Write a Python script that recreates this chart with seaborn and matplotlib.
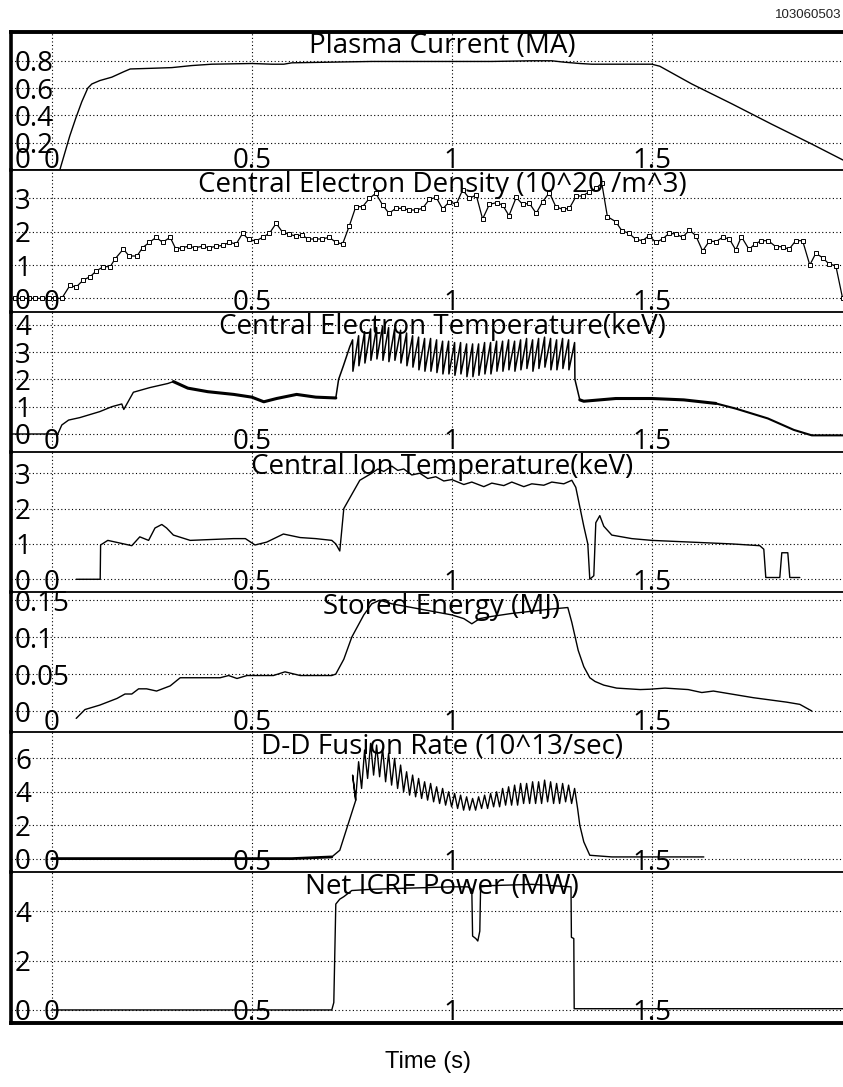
import numpy as np
import pandas as pd
import seaborn as sns
import matplotlib
matplotlib.use("Agg")
import matplotlib.pyplot as plt
import matplotlib.transforms as mtransforms

sns.set_style("white")
plt.rcParams['font.family'] = ['Open Sans', 'DejaVu Sans']

# ---------------- data ----------------
SHOT = "103060503"
TITLES = ["Plasma Current (MA)", "Central Electron Density (10^20 /m^3)",
          "Central Electron Temperature(keV)", "Central Ion Temperature(keV)",
          "Stored Energy (MJ)", "D-D Fusion Rate (10^13/sec)", "Net ICRF Power (MW)"]
X_TICKS = [0, 0.5, 1, 1.5]
X_TICK_LABELS = ["0", "0.5", "1", "1.5"]
Y_TICKS = [[0, 0.2, 0.4, 0.6, 0.8], [0, 1, 2, 3], [0, 1, 2, 3, 4], [0, 1, 2, 3],
           [0, 0.05, 0.1, 0.15], [0, 2, 4, 6], [0, 2, 4]]
Y_TICK_LABELS = [["0", "0.2", "0.4", "0.6", "0.8"], ["0", "1", "2", "3"],
                 ["0", "1", "2", "3", "4"], ["0", "1", "2", "3"],
                 ["0", "0.05", "0.1", "0.15"], ["0", "2", "4", "6"], ["0", "2", "4"]]
Y_LIMS = [(0, 1.013), (-0.41, 3.85), (-0.66, 4.47), (-0.36, 3.6),
          (-0.0284, 0.161), (-0.82, 7.58), (-0.53, 5.59)]

ip_t = [-0.1, 0.02, 0.03, 0.045, 0.06, 0.075, 0.09, 0.1, 0.12, 0.15, 0.18, 0.196, 0.25, 0.3,
        0.35, 0.4, 0.5, 0.55, 0.58, 0.6, 0.7, 0.8, 0.9, 1.0, 1.1, 1.2, 1.25, 1.28, 1.32, 1.35,
        1.4, 1.5, 1.52, 1.6, 1.7, 1.8, 1.9, 1.978]
ip_v = [0.0, 0.0, 0.1, 0.25, 0.38, 0.5, 0.6, 0.63, 0.655, 0.68, 0.72, 0.74, 0.745, 0.75,
        0.765, 0.775, 0.78, 0.775, 0.775, 0.785, 0.79, 0.795, 0.795, 0.795, 0.795, 0.8, 0.8,
        0.79, 0.78, 0.775, 0.775, 0.775, 0.76, 0.63, 0.485, 0.335, 0.19, 0.073]

ne_t = [-0.092, -0.075, -0.058, -0.042, -0.025, -0.008, 0.008, 0.025, 0.046, 0.06, 0.079,
        0.096, 0.111, 0.129, 0.146, 0.158, 0.179, 0.193, 0.213, 0.227, 0.244, 0.261, 0.277,
        0.296, 0.31, 0.325, 0.342, 0.358, 0.377, 0.393, 0.411, 0.428, 0.444, 0.461, 0.477,
        0.492, 0.51, 0.527, 0.544, 0.561, 0.577, 0.594, 0.61, 0.625, 0.641, 0.658, 0.675,
        0.694, 0.71, 0.727, 0.744, 0.76, 0.777, 0.794, 0.81, 0.827, 0.843, 0.86, 0.877, 0.893,
        0.91, 0.927, 0.944, 0.961, 0.977, 0.994, 1.011, 1.027, 1.044, 1.061, 1.077, 1.094,
        1.112, 1.127, 1.143, 1.161, 1.177, 1.194, 1.211, 1.227, 1.244, 1.26, 1.277, 1.294,
        1.311, 1.327, 1.344, 1.36, 1.375, 1.389, 1.41, 1.425, 1.443, 1.46, 1.477, 1.493, 1.51,
        1.527, 1.543, 1.56, 1.577, 1.594, 1.61, 1.627, 1.644, 1.66, 1.677, 1.694, 1.71, 1.724,
        1.743, 1.758, 1.774, 1.791, 1.81, 1.827, 1.843, 1.86, 1.877, 1.895, 1.91, 1.927, 1.943,
        1.96, 1.977]
ne_v = [0, 0, 0, 0, 0, 0, 0, 0, 0.4, 0.33, 0.55, 0.65, 0.82, 0.95, 0.95, 1.18, 1.48, 1.27,
        1.27, 1.52, 1.68, 1.83, 1.68, 1.83, 1.48, 1.52, 1.56, 1.52, 1.56, 1.52, 1.56, 1.59,
        1.68, 1.63, 1.95, 1.77, 1.72, 1.83, 1.95, 2.25, 1.98, 1.92, 1.87, 1.9, 1.78, 1.78,
        1.78, 1.83, 1.68, 1.63, 2.18, 2.75, 2.75, 3.0, 3.15, 2.8, 2.55, 2.7, 2.7, 2.65, 2.65,
        2.7, 2.97, 3.03, 2.68, 2.9, 2.82, 3.25, 3.0, 3.1, 2.38, 2.82, 2.87, 2.8, 2.48, 3.03,
        2.82, 2.85, 2.55, 2.9, 3.17, 2.75, 2.67, 2.7, 3.07, 3.07, 3.2, 3.3, 3.45, 2.45, 2.3,
        2.03, 1.95, 1.77, 1.73, 1.88, 1.68, 1.78, 1.95, 1.93, 1.83, 2.05, 1.88, 1.42, 1.72,
        1.7, 1.83, 1.78, 1.45, 1.85, 1.47, 1.63, 1.73, 1.73, 1.55, 1.55, 1.47, 1.73, 1.73,
        1.0, 1.35, 1.22, 1.03, 0.98, 0.0]

# electron temperature pieces
te_pre_t = [-0.1, 0.015, 0.025, 0.042, 0.07, 0.12, 0.15, 0.175, 0.18, 0.204, 0.245, 0.29, 0.304]
te_pre_v = [0.0, 0.0, 0.33, 0.51, 0.6, 0.82, 1.0, 1.1, 0.9, 1.53, 1.7, 1.85, 1.92]
te_band1_t = [0.304, 0.34, 0.39, 0.455, 0.5, 0.53, 0.562, 0.612, 0.66, 0.71]
te_band1_v = [1.92, 1.68, 1.55, 1.45, 1.35, 1.18, 1.3, 1.45, 1.35, 1.32]
te_rise_t = [0.71, 0.717, 0.729, 0.745]
te_rise_v = [1.32, 2.0, 2.5, 3.2]
saw_t = [0.752, 0.767, 0.782, 0.797, 0.812, 0.827, 0.842, 0.857, 0.872, 0.887, 0.902, 0.917,
         0.932, 0.947, 0.962, 0.977, 0.992, 1.007, 1.022, 1.037, 1.052, 1.067, 1.082, 1.097,
         1.112, 1.127, 1.142, 1.157, 1.172, 1.187, 1.202, 1.217, 1.232, 1.247, 1.262, 1.277,
         1.292, 1.307]
te_top = [3.45, 3.6, 3.75, 3.85, 3.9, 3.95, 3.9, 3.85, 3.8, 3.7, 3.6, 3.55, 3.5, 3.5, 3.45,
          3.4, 3.4, 3.35, 3.35, 3.3, 3.3, 3.3, 3.35, 3.35, 3.4, 3.4, 3.45, 3.4, 3.45, 3.5, 3.45,
          3.5, 3.55, 3.5, 3.45, 3.5, 3.45, 3.35]
te_bot = [2.3, 2.5, 2.6, 2.7, 2.75, 2.7, 2.65, 2.7, 2.6, 2.5, 2.45, 2.35, 2.3, 2.3, 2.25,
          2.2, 2.2, 2.15, 2.2, 2.1, 2.1, 2.15, 2.2, 2.2, 2.3, 2.3, 2.35, 2.3, 2.35, 2.4, 2.3,
          2.4, 2.45, 2.35, 2.35, 2.4, 2.35, 2.0]
te_post_t = [1.32, 1.33, 1.41, 1.5, 1.58, 1.66, 1.71, 1.79, 1.855, 1.9, 1.978]
te_post_v = [1.25, 1.2, 1.3, 1.3, 1.25, 1.12, 0.93, 0.57, 0.15, -0.05, -0.05]

ti_t = [0.061, 0.121, 0.122, 0.14, 0.16, 0.2, 0.22, 0.242, 0.258, 0.275, 0.287, 0.304, 0.346,
        0.388, 0.454, 0.484, 0.508, 0.537, 0.579, 0.621, 0.66, 0.7, 0.71, 0.72, 0.73, 0.75,
        0.77, 0.8, 0.815, 0.83, 0.85, 0.865, 0.88, 0.9, 0.92, 0.94, 0.96, 0.98, 1.0, 1.03,
        1.05, 1.08, 1.1, 1.13, 1.15, 1.18, 1.2, 1.23, 1.25, 1.28, 1.3, 1.31,
        1.33, 1.34, 1.345, 1.355, 1.36, 1.37, 1.38, 1.4, 1.45, 1.5, 1.6, 1.7, 1.77, 1.78,
        1.785, 1.82, 1.825, 1.84, 1.845, 1.87]
ti_v = [0.0, 0.0, 0.97, 1.1, 1.05, 0.95, 1.2, 1.1, 1.45, 1.55, 1.45, 1.25, 1.1, 1.12, 1.15,
        1.15, 0.97, 1.05, 1.28, 1.18, 1.15, 1.1, 1.0, 0.8, 2.0, 2.4, 2.8, 3.0, 3.12, 3.05,
        3.2, 3.08, 3.12, 2.95, 3.0, 2.85, 2.9, 2.78, 2.82, 2.68, 2.75, 2.62, 2.72, 2.65, 2.75,
        2.62, 2.7, 2.66, 2.75, 2.7, 2.8, 2.6, 1.5, 1.0, 0.0, 0.1, 1.6, 1.8, 1.5,
        1.25, 1.15, 1.1, 1.05, 1.0, 0.95, 0.85, 0.05, 0.05, 0.75, 0.75, 0.05, 0.05]

we_t = [0.061, 0.083, 0.12, 0.163, 0.183, 0.2, 0.217, 0.237, 0.262, 0.296, 0.321, 0.421,
        0.442, 0.463, 0.488, 0.554, 0.583, 0.621, 0.65, 0.7, 0.71, 0.73, 0.75, 0.78, 0.8,
        0.82, 0.85, 0.9, 0.95, 1.0, 1.03, 1.05, 1.07, 1.1, 1.15, 1.2, 1.25, 1.29, 1.3, 1.316,
        1.33, 1.345, 1.358, 1.38, 1.412, 1.471, 1.496, 1.533, 1.591, 1.625, 1.654, 1.754,
        1.837, 1.87, 1.9]
we_v = [-0.01, 0.002, 0.008, 0.017, 0.023, 0.023, 0.03, 0.03, 0.027, 0.034, 0.045, 0.045,
        0.048, 0.044, 0.048, 0.048, 0.053, 0.048, 0.048, 0.048, 0.05, 0.07, 0.1, 0.13, 0.145,
        0.15, 0.145, 0.14, 0.135, 0.13, 0.125, 0.118, 0.125, 0.128, 0.132, 0.135, 0.138,
        0.14, 0.12, 0.082, 0.06, 0.045, 0.04, 0.035, 0.031, 0.029, 0.0295, 0.031, 0.029,
        0.025, 0.027, 0.018, 0.012, 0.009, 0.0]

dd_pre_t = [0.0, 0.1, 0.2, 0.3, 0.4, 0.5, 0.6, 0.7, 0.72, 0.74, 0.76]
dd_pre_v = [0.0, 0.0, 0.0, 0.0, 0.0, 0.0, 0.0, 0.1, 0.5, 2.0, 3.5]
dd_top = [5.0, 5.8, 6.5, 6.9, 6.8, 6.6, 6.3, 6.0, 5.6, 5.2, 5.0, 4.8, 4.6, 4.5, 4.3, 4.2,
          4.0, 3.9, 3.8, 3.7, 3.6, 3.7, 3.8, 3.9, 4.0, 4.2, 4.3, 4.4, 4.5, 4.5, 4.6, 4.6, 4.7,
          4.6, 4.5, 4.5, 4.4, 4.2]
dd_bot = [3.5, 4.2, 4.8, 5.0, 4.9, 4.6, 4.4, 4.2, 4.0, 3.8, 3.7, 3.6, 3.5, 3.4, 3.3, 3.2,
          3.1, 3.0, 2.9, 2.9, 2.9, 3.0, 3.0, 3.1, 3.1, 3.2, 3.2, 3.2, 3.3, 3.3, 3.3, 3.3, 3.4,
          3.3, 3.3, 3.4, 3.3, 3.0]
dd_post_t = [1.32, 1.33, 1.345, 1.4, 1.5, 1.6, 1.63]
dd_post_v = [2.0, 1.0, 0.2, 0.1, 0.1, 0.1, 0.1]

rf_t = [0.0, 0.7, 0.705, 0.71, 0.72, 0.73, 0.75, 0.8, 0.9, 1.0, 1.04, 1.05, 1.052, 1.06,
        1.065, 1.07, 1.072, 1.1, 1.2, 1.298, 1.299, 1.305, 1.306, 1.978]
rf_v = [0.0, 0.0, 0.3, 4.3, 4.5, 4.6, 4.85, 4.9, 4.95, 5.0, 5.0, 4.9, 3.0, 2.9, 2.8, 3.2,
        5.0, 5.05, 5.1, 5.0, 2.95, 2.9, 0.05, 0.05]

# ---------------- layout ----------------
W, H = 843, 1087
fig = plt.figure(figsize=(W / 100, H / 100), dpi=100)
bounds_px = [31.7, 170, 312, 452, 592, 732, 872.3, 1023]
left_px = 11
XMIN, XMAX = -0.102, 1.978
axes = []
for i in range(7):
    top, bot = bounds_px[i], bounds_px[i + 1]
    ax = fig.add_axes([left_px / W, 1 - bot / H, 1 - left_px / W, (bot - top) / H])
    axes.append(ax)

LC = "black"

def line(ax, t, v, lw=1.0, **kw):
    df = pd.DataFrame({"t": t, "v": v})
    sns.lineplot(data=df, x="t", y="v", ax=ax, sort=False, estimator=None,
                 color=LC, lw=lw, **kw)

line(axes[0], ip_t, ip_v)
line(axes[1], ne_t, ne_v, lw=0.9, marker="s", markersize=3.2,
     markerfacecolor="white", markeredgecolor="black", markeredgewidth=0.7)

# Te with sawteeth
te_saw_t, te_saw_v = [], []
for k in range(len(saw_t)):
    te_saw_t += [saw_t[k], saw_t[k] + 0.0008]
    te_saw_v += [te_top[k], te_bot[k]]
line(axes[2], te_pre_t, te_pre_v)
line(axes[2], te_band1_t, te_band1_v, lw=2.2)
line(axes[2], te_rise_t + te_saw_t + te_post_t[:1],
     te_rise_v + te_saw_v + te_post_v[:1], lw=1.1)
line(axes[2], te_post_t[:6], te_post_v[:6], lw=2.2)
line(axes[2], te_post_t[5:], te_post_v[5:], lw=1.5)

line(axes[3], ti_t, ti_v)
line(axes[4], we_t, we_v)

dd_osc_t, dd_osc_v = [], []
for k in range(len(saw_t)):
    dd_osc_t += [saw_t[k], saw_t[k] + 0.0075]
    dd_osc_v += [dd_top[k], dd_bot[k]]
line(axes[5], dd_pre_t[:8], dd_pre_v[:8], lw=2.0)
line(axes[5], dd_pre_t[7:] + dd_osc_t + dd_post_t, dd_pre_v[7:] + dd_osc_v + dd_post_v, lw=1.0)

line(axes[6], rf_t, rf_v)

# ---------------- styling ----------------
FS = 20
for i, ax in enumerate(axes):
    ax.set_xlim(XMIN, XMAX)
    ax.set_ylim(*Y_LIMS[i])
    ax.set_xticks(X_TICKS)
    ax.set_yticks(Y_TICKS[i])
    ax.tick_params(length=0, labelbottom=False, labelleft=False)
    ax.set_xlabel("")
    ax.set_ylabel("")
    ax.grid(True, color="black", lw=0.8, ls=(0, (1, 2.2)))
    ax.set_facecolor("none")
    ax.spines["right"].set_visible(False)
    ax.spines["left"].set_linewidth(2.6)
    ax.spines["top"].set_linewidth(2.8 if i == 0 else 1.3)
    ax.spines["bottom"].set_visible(i == 6)
    ax.spines["bottom"].set_linewidth(2.8)
    for s in ax.spines.values():
        s.set_color("black")

    # panel title
    ax.text(0.518, 0.995, TITLES[i], transform=ax.transAxes, ha="center", va="top",
            fontsize=FS, color="black")

    # x tick labels inside the panel, bottom
    off = mtransforms.offset_copy(ax.get_xaxis_transform(), fig=fig, x=0, y=2.5, units="dots")
    for xv, lab in zip(X_TICKS, X_TICK_LABELS):
        ax.text(xv, 0, lab, transform=off, ha="center", va="baseline",
                fontsize=FS, color="black")

    # y tick labels inside, left
    ylo, yhi = Y_LIMS[i]
    for yv, lab in zip(Y_TICKS[i], Y_TICK_LABELS[i]):
        if (yv - ylo) / (yhi - ylo) < 0.05:
            offy = mtransforms.offset_copy(ax.transAxes, fig=fig, x=4, y=2.5, units="dots")
            ax.text(0, 0, lab, transform=offy, ha="left", va="baseline",
                    fontsize=FS, color="black")
        else:
            tr = mtransforms.blended_transform_factory(ax.transAxes, ax.transData)
            trs = mtransforms.offset_copy(tr, fig=fig, x=4, y=0, units="dots")
            ax.text(0, yv, lab, transform=trs, ha="left", va="center_baseline",
                    fontsize=FS, color="black")

fig.text(1 - 2 / W, 1 - 15 / H, SHOT, ha="right", va="center", fontsize=9.5,
         family=["Liberation Sans", "DejaVu Sans"], color="#222222")
fig.text(428 / W, 1 - 1062 / H, "Time (s)", ha="center", va="center", fontsize=17,
         family=["Liberation Sans", "DejaVu Sans"], color="black")

fig.savefig("out.png", dpi=100)
